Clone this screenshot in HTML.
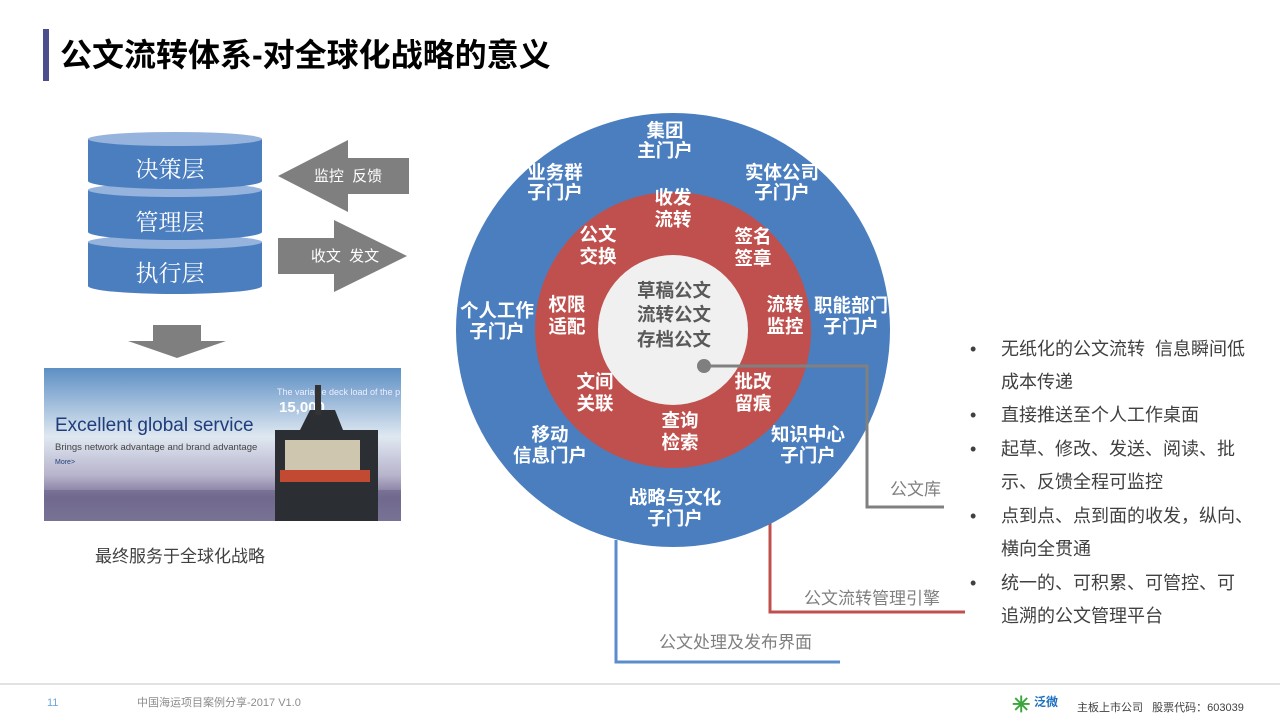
<!DOCTYPE html>
<html><head><meta charset="utf-8"><style>
html,body{margin:0;padding:0;background:#fff;width:1280px;height:720px;overflow:hidden}
svg{display:block}
text{white-space:pre}
.w{fill:#fff;font-family:"Liberation Sans","Noto Sans CJK SC",sans-serif;font-weight:bold;font-size:18.5px;text-anchor:middle}
.c{fill:#595959;font-family:"Liberation Sans","Noto Sans CJK SC",sans-serif;font-weight:bold;font-size:18.5px;text-anchor:middle}
.g{fill:#7f7f7f;font-family:"Liberation Sans","Noto Sans CJK SC",sans-serif;font-size:17px}
.b{fill:#404040;font-family:"Liberation Sans","Noto Sans CJK SC",sans-serif;font-size:18px}
.s{fill:#fff;font-family:"Liberation Serif","Noto Serif CJK SC",serif;font-size:23px;text-anchor:middle}
.a{fill:#fff;font-family:"Liberation Sans","Noto Sans CJK SC",sans-serif;font-size:15px;text-anchor:middle}
</style></head><body>
<svg width="1280" height="720" viewBox="0 0 1280 720" xmlns="http://www.w3.org/2000/svg" xml:space="preserve">
<defs>
<linearGradient id="sky" x1="0" y1="0" x2="0" y2="1">
<stop offset="0" stop-color="#5d8fc4"/><stop offset="0.45" stop-color="#dfe8f1"/><stop offset="0.7" stop-color="#b7b4cc"/><stop offset="0.85" stop-color="#7a6f96"/><stop offset="1" stop-color="#8c86a8"/>
</linearGradient>
</defs>
<rect x="43" y="29" width="6" height="52" fill="#4b4f8c"/>
<text x="60" y="66" style="font-family:'Liberation Sans','Noto Sans CJK SC',sans-serif;font-weight:bold;font-size:32px;fill:#000">公文流转体系-对全球化战略的意义</text>

<g>
<path d="M88 242 v44 a87 8 0 0 0 174 0 v-44 z" fill="#4a7ebf"/>
<ellipse cx="175" cy="242" rx="87" ry="7" fill="#95b3dc"/>
<path d="M88 190 v42 a87 8 0 0 0 174 0 v-42 z" fill="#4a7ebf"/>
<ellipse cx="175" cy="190" rx="87" ry="7" fill="#95b3dc"/>
<path d="M88 139 v42 a87 8 0 0 0 174 0 v-42 z" fill="#4a7ebf"/>
<ellipse cx="175" cy="139" rx="87" ry="7" fill="#95b3dc"/>
<text class="s" x="170" y="177">决策层</text>
<text class="s" x="170" y="230">管理层</text>
<text class="s" x="170" y="281">执行层</text>
</g>
<polygon points="278,176 348,140 348,158 409,158 409,194 348,194 348,212" fill="#7f7f7f"/>
<text class="a" x="348" y="181">监控  反馈</text>
<polygon points="278,238 334,238 334,220 407,256 334,292 334,274 278,274" fill="#7f7f7f"/>
<text class="a" x="345" y="261">收文  发文</text>
<polygon points="153,325 201,325 201,341 226,341 177,358 128,341 153,341" fill="#7f7f7f"/>

<rect x="44" y="368" width="357" height="153" fill="url(#sky)"/>
<rect x="44" y="490" width="357" height="31" fill="#6b6588" opacity="0.6"/>
<text x="55" y="431" style="font-family:'Liberation Sans',sans-serif;font-size:19px;fill:#1f3d7a">Excellent global service</text>
<text x="55" y="450" style="font-family:'Liberation Sans',sans-serif;font-size:9.5px;fill:#444">Brings network advantage and brand advantage</text>
<text x="55" y="464" style="font-family:'Liberation Sans',sans-serif;font-size:7px;fill:#1f3d7a">More&gt;</text>
<text x="277" y="395" style="font-family:'Liberation Sans',sans-serif;font-size:9px;fill:#eef">The variable deck load of the p</text>
<text x="279" y="412" style="font-family:'Liberation Sans',sans-serif;font-size:15px;font-weight:bold;fill:#fff">15,000</text>
<path d="M275 430 h25 l10 -20 h25 l8 20 h35 v91 h-103 z" fill="#2b2e33"/>
<rect x="285" y="440" width="75" height="30" fill="#cfc6b0"/>
<rect x="280" y="470" width="90" height="12" fill="#c24a32"/>
<rect x="315" y="385" width="6" height="30" fill="#333"/>

<text x="95" y="562" style="font-family:'Liberation Sans','Noto Sans CJK SC',sans-serif;font-size:17px;fill:#404040">最终服务于全球化战略</text>

<polyline points="616,540 616,662 840,662" fill="none" stroke="#5b8ccc" stroke-width="3"/>
<polyline points="722,456 770,456 770,612 965,612" fill="none" stroke="#c0504d" stroke-width="3"/>

<circle cx="673" cy="330" r="217" fill="#4a7ebf"/>
<circle cx="673" cy="330" r="138" fill="#c0504d"/>
<circle cx="673" cy="330" r="75" fill="#f0f0f0"/>

<polyline points="704,366 867,366 867,507 944,507" fill="none" stroke="#808080" stroke-width="3"/>
<circle cx="704" cy="366" r="7" fill="#7f7f7f"/>

<text class="w" x="665" y="137">集团</text><text class="w" x="665" y="157">主门户</text>
<text class="w" x="555" y="179">业务群</text><text class="w" x="555" y="199">子门户</text>
<text class="w" x="782" y="179">实体公司</text><text class="w" x="782" y="199">子门户</text>
<text class="w" x="497" y="317">个人工作</text><text class="w" x="497" y="338">子门户</text>
<text class="w" x="851" y="312">职能部门</text><text class="w" x="851" y="333">子门户</text>
<text class="w" x="550" y="441">移动</text><text class="w" x="550" y="462">信息门户</text>
<text class="w" x="808" y="441">知识中心</text><text class="w" x="808" y="462">子门户</text>
<text class="w" x="675" y="504">战略与文化</text><text class="w" x="675" y="525">子门户</text>

<text class="w" x="673" y="204">收发</text><text class="w" x="673" y="226">流转</text>
<text class="w" x="598" y="241">公文</text><text class="w" x="598" y="263">交换</text>
<text class="w" x="753" y="243">签名</text><text class="w" x="753" y="265">签章</text>
<text class="w" x="567" y="311">权限</text><text class="w" x="567" y="333">适配</text>
<text class="w" x="785" y="311">流转</text><text class="w" x="785" y="333">监控</text>
<text class="w" x="595" y="388">文间</text><text class="w" x="595" y="410">关联</text>
<text class="w" x="753" y="388">批改</text><text class="w" x="753" y="410">留痕</text>
<text class="w" x="680" y="427">查询</text><text class="w" x="680" y="449">检索</text>

<text class="c" x="674" y="297">草稿公文</text>
<text class="c" x="674" y="321">流转公文</text>
<text class="c" x="674" y="346">存档公文</text>

<text class="g" x="890" y="495">公文库</text>
<text class="g" x="804" y="604">公文流转管理引擎</text>
<text class="g" x="659" y="648">公文处理及发布界面</text>

<g class="b">
<text x="970" y="355">•</text><text x="1001" y="355">无纸化的公文流转  信息瞬间低</text>
<text x="1001" y="388">成本传递</text>
<text x="970" y="421">•</text><text x="1001" y="421">直接推送至个人工作桌面</text>
<text x="970" y="455">•</text><text x="1001" y="455">起草、修改、发送、阅读、批</text>
<text x="1001" y="488">示、反馈全程可监控</text>
<text x="970" y="522">•</text><text x="1001" y="522">点到点、点到面的收发，纵向、</text>
<text x="1001" y="555">横向全贯通</text>
<text x="970" y="589">•</text><text x="1001" y="589">统一的、可积累、可管控、可</text>
<text x="1001" y="622">追溯的公文管理平台</text>
</g>

<line x1="0" y1="684" x2="1280" y2="684" stroke="#d9d9d9" stroke-width="1.5"/>
<text x="47" y="706" style="font-family:'Liberation Sans',sans-serif;font-size:11px;fill:#6fa8dc">11</text>
<text x="137" y="706" style="font-family:'Liberation Sans','Noto Sans CJK SC',sans-serif;font-size:11px;fill:#8c8c8c">中国海运项目案例分享-2017 V1.0</text>
<text x="1012" y="712" style="font-family:'Liberation Sans',sans-serif;font-size:22px;font-weight:bold;fill:#3aa53a">✳</text>
<text x="1034" y="706" style="font-family:'Liberation Sans','Noto Sans CJK SC',sans-serif;font-size:12px;font-weight:bold;fill:#1d6fbf">泛微</text>
<text x="1077" y="711" style="font-family:'Liberation Sans','Noto Sans CJK SC',sans-serif;font-size:11px;fill:#404040">主板上市公司   股票代码：603039</text>
</svg>
</body></html>
